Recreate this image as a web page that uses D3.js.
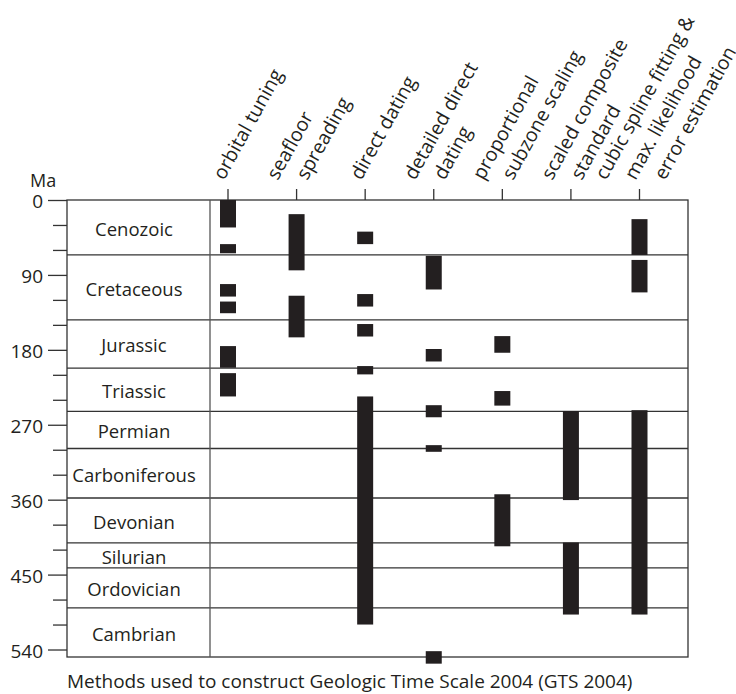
<!DOCTYPE html>
<html>
<head>
<meta charset="utf-8">
<script src="https://cdn.jsdelivr.net/npm/d3@7"></script>
<style>
  body { margin: 0; background: #fff; }
  svg { display: block; font-family: "Open Sans", sans-serif; }
</style>
</head>
<body>
<svg id="chart"></svg>
<script>
// geologic periods (Ma)
const periods = ["Cenozoic", "Cretaceous", "Jurassic", "Triassic", "Permian",
  "Carboniferous", "Devonian", "Silurian", "Ordovician", "Cambrian"];
const periodBounds = [0, 66, 144, 202, 254, 298.5, 358, 412, 442, 490, 549];

// methods along the top, one entry per line of the label
const methods = [
  ["orbital tuning"],
  ["seafloor", "spreading"],
  ["direct dating"],
  ["detailed direct", "dating"],
  ["proportional", "subzone scaling"],
  ["scaled composite", "standard"],
  ["cubic spline fitting &", "max. likelihood", "error estimation"]
];

// [from, to] in Ma for each method
const orbitalTuning = [[0, 33], [53, 64], [101, 116], [122, 136], [175.5, 201.5], [208, 236]];
const seafloorSpreading = [[17, 84.5], [115, 165]];
const directDating = [[38, 53], [113, 128], [149, 164], [199.5, 209.5], [236, 510]];
const detailedDirect = [[67, 107.5], [179, 194], [246.5, 261], [294.5, 302.5], [542, 557]];
const subzoneScaling = [[163.5, 183.5], [229.5, 247], [353.5, 416]];
const compositeStandard = [[253.5, 360.5], [411.5, 498]];
const splineFitting = [[23, 66], [72, 111], [252.5, 498]];
const ranges = [orbitalTuning, seafloorSpreading, directDating, detailedDirect,
  subzoneScaling, compositeStandard, splineFitting];

const yTicks = d3.range(0, 541, 30);
const title = "Methods used to construct Geologic Time Scale 2004 (GTS 2004)";

const width = 736;
const height = 694;
const box = { left: 67, right: 688, top: 200, bottom: 657, divider: 210 };
const ink = "#231f20";

const svg = d3.select("#chart")
  .attr("width", width)
  .attr("height", height);

const y = d3.scaleLinear()
  .domain([0, 549])
  .range([box.top, box.bottom]);

const x = d3.scalePoint()
  .domain(d3.range(methods.length))
  .range([228, 639.5]);

// period rows
const rows = periods.map((p, i) => ({ name: p, from: periodBounds[i], to: periodBounds[i + 1] }));

svg.append("g")
  .selectAll("line")
  .data(rows.slice(0, -1))
  .join("line")
  .attr("x1", box.left)
  .attr("x2", box.right)
  .attr("y1", d => y(d.to))
  .attr("y2", d => y(d.to))
  .attr("stroke", "#333")
  .attr("stroke-width", 1.3);

svg.append("g")
  .selectAll("text")
  .data(rows)
  .join("text")
  .attr("x", 134)
  .attr("y", d => y((d.from + d.to) / 2) + 2)
  .attr("dy", "0.35em")
  .attr("text-anchor", "middle")
  .attr("font-size", 18.5)
  .attr("fill", ink)
  .text(d => d.name);

// outer box + divider
svg.append("rect")
  .attr("x", box.left)
  .attr("y", box.top)
  .attr("width", box.right - box.left)
  .attr("height", box.bottom - box.top)
  .attr("fill", "none")
  .attr("stroke", "#333")
  .attr("stroke-width", 1.3);

svg.append("line")
  .attr("x1", box.divider).attr("x2", box.divider)
  .attr("y1", box.top).attr("y2", box.bottom)
  .attr("stroke", "#555")
  .attr("stroke-width", 1.3);

// bars
svg.append("g")
  .selectAll("g")
  .data(ranges)
  .join("g")
  .attr("fill", ink)
  .selectAll("rect")
  .data((d, i) => d.map(r => ({ col: i, from: r[0], to: r[1] })))
  .join("rect")
  .attr("x", d => x(d.col) - 8)
  .attr("width", 16)
  .attr("y", d => y(d.from))
  .attr("height", d => y(d.to) - y(d.from));

// y axis
const yAxis = svg.append("g")
  .attr("transform", `translate(${box.left},0)`)
  .call(d3.axisLeft(y)
    .tickValues(yTicks)
    .tickSize(14)
    .tickSizeOuter(0)
    .tickPadding(10)
    .tickFormat(d => d % 90 === 0 ? d : ""));

yAxis.select(".domain").remove();
yAxis.selectAll(".tick line")
  .attr("stroke", "#333")
  .attr("stroke-width", 1.3)
  .attr("x2", d => d % 90 === 0 ? -19 : -14);
yAxis.selectAll(".tick text")
  .attr("font-size", 19)
  .attr("font-family", "Open Sans, sans-serif")
  .attr("fill", ink)
  .attr("dy", "0.42em");

svg.append("text")
  .attr("x", 30)
  .attr("y", 187)
  .attr("font-size", 18)
  .attr("fill", ink)
  .text("Ma");

// method ticks and rotated labels
svg.append("g")
  .selectAll("line")
  .data(methods)
  .join("line")
  .attr("x1", (d, i) => x(i))
  .attr("x2", (d, i) => x(i))
  .attr("y1", 189)
  .attr("y2", box.top)
  .attr("stroke", "#333")
  .attr("stroke-width", 1.3);

const labelLines = methods.flatMap((lines, i) =>
  lines.map((t, j) => ({ col: i, text: t, shift: (j - (lines.length - 1) / 2) * 29.5 })));

svg.append("g")
  .selectAll("text")
  .data(labelLines)
  .join("text")
  .attr("transform", d => `translate(${x(d.col) - 4 + d.shift},181) rotate(-61)`)
  .attr("font-size", 19.5)
  .attr("fill", ink)
  .text(d => d.text);

svg.append("text")
  .attr("x", 67)
  .attr("y", 688)
  .attr("font-size", 19)
  .attr("fill", ink)
  .text(title);
</script>
</body>
</html>
